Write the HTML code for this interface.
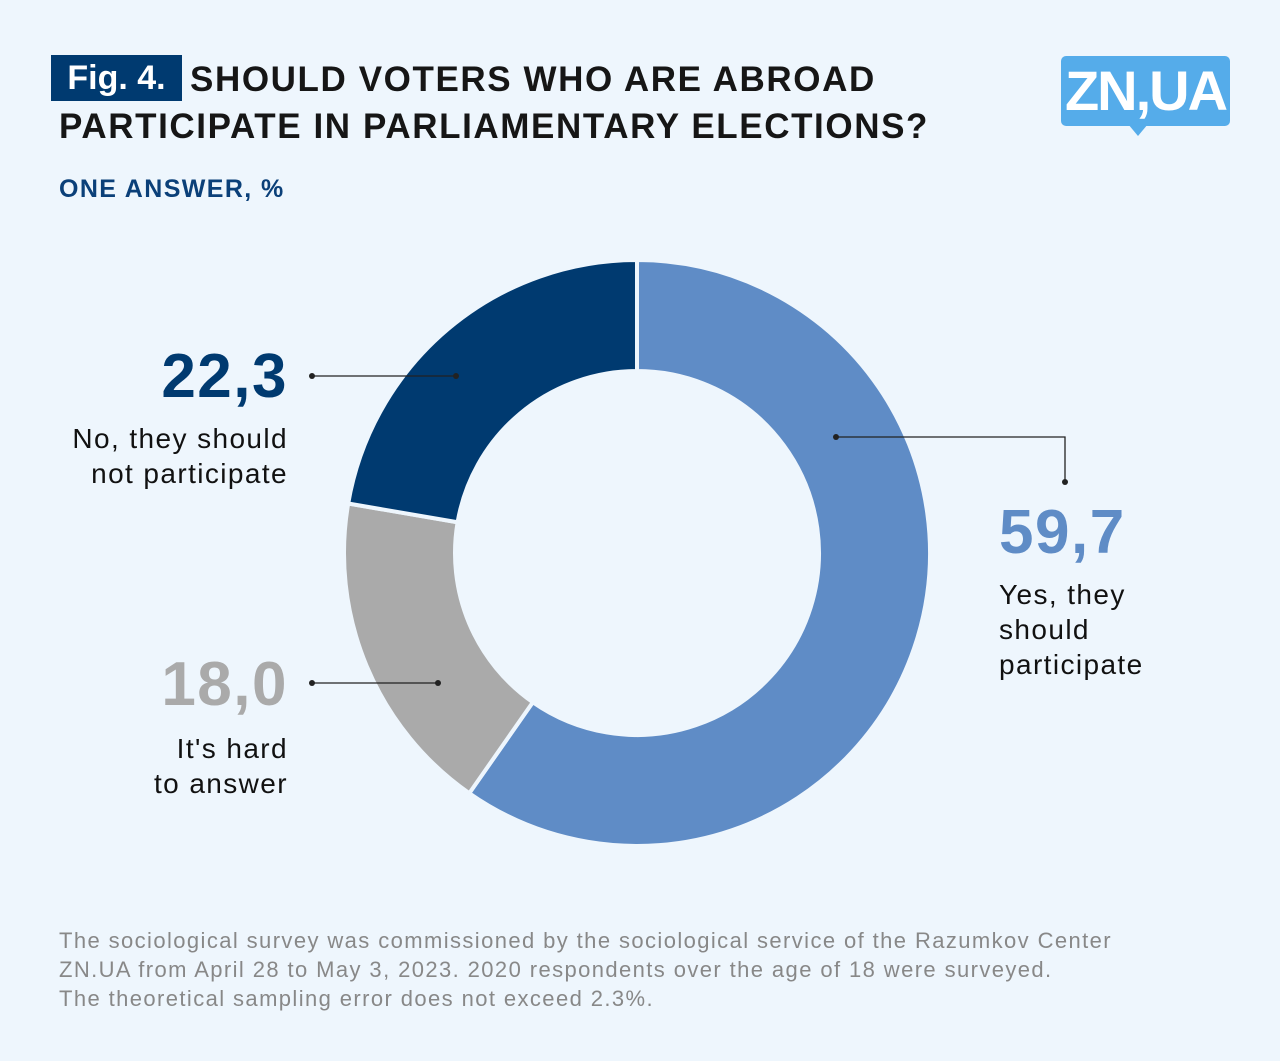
<!DOCTYPE html>
<html><head><meta charset="utf-8"><style>
body{margin:0;width:1280px;height:1061px;background:#eef6fd;font-family:"Liberation Sans",sans-serif;position:relative;overflow:hidden}
.a{position:absolute;white-space:nowrap}
.lab{font-size:28px;line-height:35px;color:#111;letter-spacing:1.4px}
.num{font-weight:bold;font-size:62px;letter-spacing:1.5px}
</style></head><body>
<div class="a" style="left:51px;top:55px;width:131px;height:46px;background:#003a70;color:#fff;font-weight:bold;font-size:34px;line-height:46px;text-align:center">Fig. 4.</div>
<div class="a" style="left:59px;top:56px;font-weight:bold;font-size:35px;line-height:47px;color:#161616;letter-spacing:1.6px"><span style="margin-left:131px">SHOULD VOTERS WHO ARE ABROAD</span><br>PARTICIPATE IN PARLIAMENTARY ELECTIONS?</div>
<div class="a" style="left:59px;top:175px;font-weight:bold;font-size:25px;color:#0b4079;letter-spacing:1.4px">ONE ANSWER, %</div>
<div class="a" style="left:1061px;top:56px;width:169px;height:70px;background:#55acea;border-radius:5px;color:#fff;font-weight:bold;font-size:56px;line-height:70px;text-align:center;letter-spacing:-2px">ZN,UA</div>
<div class="a" style="left:1128px;top:124px;width:0;height:0;border-left:10px solid transparent;border-right:10px solid transparent;border-top:12px solid #55acea"></div>
<svg class="a" style="left:0;top:0" width="1280" height="1061" id="svg"></svg>
<div class="a num" style="right:992px;top:341px;color:#003a70">22,3</div>
<div class="a lab" style="right:992px;top:421px;text-align:right">No, they should<br>not participate</div>
<div class="a num" style="right:992px;top:649px;color:#aaaaaa">18,0</div>
<div class="a lab" style="right:992px;top:731px;text-align:right">It's hard<br>to answer</div>
<div class="a num" style="left:999px;top:497px;color:#5f8cc6">59,7</div>
<div class="a lab" style="left:999px;top:577px">Yes, they<br>should<br>participate</div>
<div class="a" style="left:59px;top:926px;font-size:22px;line-height:29px;color:#888;letter-spacing:1.4px">The sociological survey was commissioned by the sociological service of the Razumkov Center<br>ZN.UA from April 28 to May 3, 2023. 2020 respondents over the age of 18 were surveyed.<br>The theoretical sampling error does not exceed 2.3%.</div>
<script>
const categories=["Yes, they should participate","It's hard to answer","No, they should not participate"];
const values=[59.7,18.0,22.3];
const colors=["#5f8cc6","#aaaaaa","#003a70"];
const names=["slice-yes","slice-hard","slice-no"];
const svg=document.getElementById('svg');
const cx=637,cy=553,R=293,r=182;
const total=values.reduce((a,b)=>a+b,0);
function pt(rad,ang){return [cx+rad*Math.sin(ang),cy-rad*Math.cos(ang)];}
let acc=0;
values.forEach((v,i)=>{
 const a0=acc/total*2*Math.PI,a1=(acc+v)/total*2*Math.PI;acc+=v;
 const large=(a1-a0)>Math.PI?1:0;
 const p0=pt(R,a0),p1=pt(R,a1),q1=pt(r,a1),q0=pt(r,a0);
 const p=document.createElementNS('http://www.w3.org/2000/svg','path');
 p.setAttribute('d',`M${p0} A${R},${R} 0 ${large} 1 ${p1} L${q1} A${r},${r} 0 ${large} 0 ${q0} Z`);
 p.setAttribute('fill',colors[i]);p.setAttribute('stroke','#eef6fd');p.setAttribute('stroke-width','4');
 
 
 svg.appendChild(p);
});
const lines=[[[312,376],[456,376]],[[312,683],[438,683]],[[836,437],[1065,437],[1065,482]]];
lines.forEach((l,i)=>{
 const pl=document.createElementNS('http://www.w3.org/2000/svg','polyline');
 pl.setAttribute('points',l.map(p=>p.join(',')).join(' '));
 pl.setAttribute('fill','none');pl.setAttribute('stroke','#222');pl.setAttribute('stroke-width','1.3');
 
 
 svg.appendChild(pl);
 [l[0],l[l.length-1]].forEach(p=>{
  const c=document.createElementNS('http://www.w3.org/2000/svg','circle');
  c.setAttribute('cx',p[0]);c.setAttribute('cy',p[1]);c.setAttribute('r',3);c.setAttribute('fill','#222');
  
  
  svg.appendChild(c);
 });
});
</script>
</body></html>
